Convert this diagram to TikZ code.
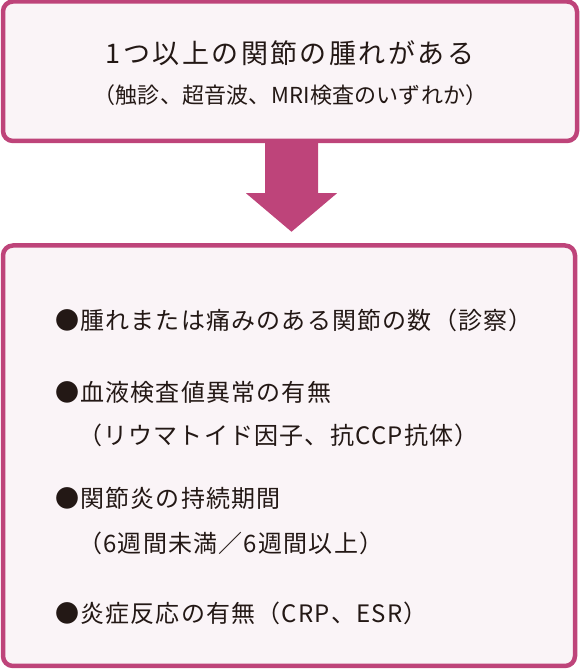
\documentclass[tikz,border=0pt]{standalone}
\usepackage{fontspec}
\setmainfont{Noto Sans CJK JP}
\usetikzlibrary{positioning}
\definecolor{rapink}{RGB}{190,68,122}
\definecolor{rafill}{RGB}{250,244,247}
\definecolor{ratext}{RGB}{35,24,21}

\begin{document}
\begin{tikzpicture}[x=1pt,y=1pt,
  panel/.style={draw=rapink,line width=4.5pt,fill=rafill,rounded corners=10pt,inner sep=0pt},
  txt/.style 2 args={text=ratext,inner sep=0pt,font=\fontsize{#1}{#1}\selectfont\addfontfeature{LetterSpace=#2}},
  item/.style={txt={24}{5},anchor=west}]
\useasboundingbox (0,0) rectangle (581,672);
\node[panel,minimum width=574,minimum height=139.5] (cond) at (290,600.75) {};
\node[panel,minimum width=572,minimum height=420.5] (items) at (289,216.25) {};
\node[txt={27}{9}] (head) at (290,619) {1つ以上の関節の腫れがある};
\node[txt={22}{1}] (how) at (290.5,577) {（触診、超音波、MRI検査のいずれか）};
\path (cond.south |- items.north) ++(1.5,11.5) coordinate (tip);
\fill[rapink] ([xshift=-25]cond.south) -- ([xshift=28]cond.south) -- ++(0,-50) -- ++(19,0)
  -- (tip) -- ([xshift=-44,yshift=-50]cond.south) -- ++(19,0) -- cycle;
\node[item] (swell) at (55,352) {●腫れまたは痛みのある関節の数（診察）};
\node[item] (blood) at (55,280) {●血液検査値異常の有無};
\node[item] (rf) at (78,237) {（リウマトイド因子、抗CCP抗体）};
\node[item] (dur) at (55,174) {●関節炎の持続期間};
\node[item] (weeks) at (78,129) {（6週間未満／6週間以上）};
\node[item] (crp) at (55,59) {●炎症反応の有無（CRP、ESR）};
\end{tikzpicture}
\end{document}
